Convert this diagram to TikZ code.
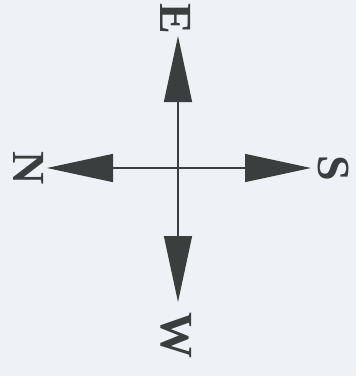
\documentclass[tikz,border=0pt]{standalone}
\usepackage{fontspec}
\setmainfont{Liberation Serif}
\usetikzlibrary{arrows.meta}
\definecolor{bg}{HTML}{EEF2F6}
\definecolor{ink}{HTML}{3A3E3E}
\begin{document}
\begin{tikzpicture}[x=1pt,y=-1pt,
  arr/.style={draw=ink,line width=1.4pt,-{Triangle[length=66pt,width=28pt,fill=ink]}},
  lab/.style={text=ink,font=\fontsize{46}{46}\selectfont\bfseries,rotate=-90,inner sep=0pt}]
\fill[bg] (0,0) rectangle (356,376);
\useasboundingbox (0,0) rectangle (356,376);
\coordinate (c) at (178,168);
\coordinate (te) at (178,36);
\coordinate (tn) at (47,168);
\coordinate (ts) at (311,168);
\coordinate (tw) at (178,302);
\draw[arr] (c) -- (te);
\draw[arr] (c) -- (tn);
\draw[arr] (c) -- (ts);
\draw[arr] (c) -- (tw);
\node[lab] (E) at (176,19) {E};
\node[lab] (N) at (29,168) {N};
\node[lab] (S) at (334,168) {S};
\node[lab] (W) at (176,335) {W};
\end{tikzpicture}
\end{document}
